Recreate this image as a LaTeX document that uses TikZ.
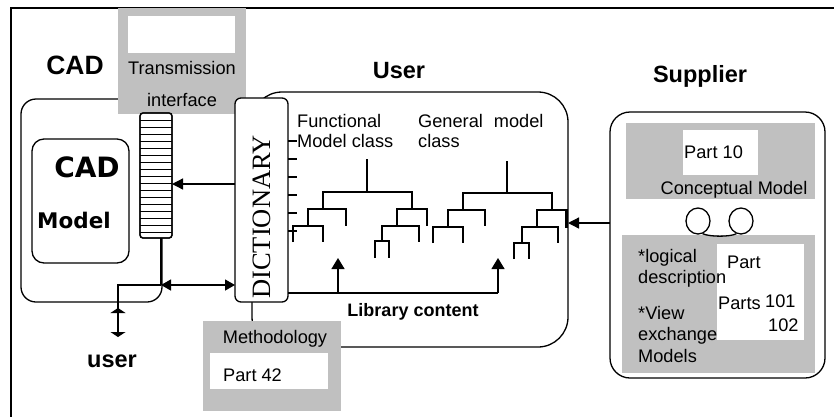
\documentclass[tikz,border=0pt]{standalone}
\usepackage{fontspec}
\setmainfont{Liberation Sans}
\newfontfamily\dictfont{Liberation Serif}
\newfontfamily\blkfont{DejaVu Sans}
\usetikzlibrary{arrows.meta,calc,shapes.geometric}
\definecolor{boxgray}{RGB}{192,192,192}
\tikzset{
  ln/.style={line width=1.3pt},
  rbox/.style={draw, line width=1.3pt, inner sep=0pt, outer sep=0pt, fill=white},
  gbox/.style={fill=boxgray, inner sep=0pt, outer sep=0pt},
  wbox/.style={fill=white, inner sep=0pt, outer sep=0pt},
  txt/.style={inner sep=0pt, font=\fontsize{18.2}{20}\selectfont},
  ttl/.style={inner sep=0pt, font=\bfseries\fontsize{23.5}{26}\selectfont},
  tipa/.style={-{Triangle[width=11pt,length=11pt]}},
  tipflat/.style={-{Triangle[width=15pt,length=5pt]}},
}
\begin{document}
\begin{tikzpicture}[x=1pt,y=-1pt]
\clip (0,0) rectangle (834,416);
\fill[white] (0,0) rectangle (834,416);
% frame
\draw[ln] (11,430) -- (11,8) -- (850,8);

% ---- CAD side
\node[rbox, rounded corners=15pt, minimum width=141pt, minimum height=203pt] (cadouter) at (91.5,200.5) {};
\node[rbox, rounded corners=12pt, minimum width=97pt, minimum height=124pt] (cadinner) at (80.5,201) {};
\node[anchor=base, inner sep=0pt, font=\blkfont\bfseries\fontsize{28}{30}\selectfont] (cadtxt) at (87,177) {CAD};
\node[anchor=base, inner sep=0pt, font=\blkfont\bfseries\fontsize{21.5}{24}\selectfont] (modeltxt) at (74,228) {Model};
\node[ttl, anchor=base, font=\bfseries\fontsize{26.5}{28}\selectfont] (cadtitle) at (75,74) {CAD};

% transmission interface
\node[gbox, minimum width=128pt, minimum height=106pt] (transg) at (182,61) {};
\node[wbox, minimum width=107pt, minimum height=37pt] (transw) at (181.5,34.5) {};
\node[txt, anchor=base] (transt1) at (182,74) {Transmission};
\node[txt, anchor=base] (transt2) at (182,106) {interface};

% striped bar
\node[rbox, rounded corners=3pt, minimum width=32pt, minimum height=125pt] (bar) at (156,175.5) {};
\foreach \yy in {120,127,...,232} \draw[line width=1pt] (140,\yy) -- (172,\yy);
\draw[rbox, rounded corners=3pt, fill=none] (140,113) rectangle (172,238);

% ---- User box
\node[rbox, rounded corners=30pt, minimum width=316pt, minimum height=255pt] (userbox) at (410,219.5) {};
\node[ttl, anchor=base] (usertitle) at (399,78) {User};

% dictionary
\node[rbox, rounded corners=6pt, minimum width=53pt, minimum height=204pt] (dict) at (261.5,200) {};
\node[rotate=90, anchor=base, inner sep=0pt, font=\dictfont\fontsize{26.5}{28}\selectfont] (dicttxt) at (270,217) {DICTIONARY};
\foreach \yy in {141,159,177,195,213,231} \draw[ln] (288,\yy) -- (297,\yy);

\node[txt, anchor=base west] (func1) at (297,127) {Functional};
\node[txt, anchor=base west] (func2) at (297,147) {Model class};
\node[txt, anchor=base west] (gen1) at (418,127) {General\hspace{11pt}model};
\node[txt, anchor=base west] (gen2) at (418,147) {class};

% trees
\begin{scope}[ln]
\draw (367,159)--(367,192);
\draw (323,209)--(323,192)--(412,192)--(412,209);
\draw (308,226)--(308,209)--(346,209)--(346,226);
\draw (293,242)--(293,226)--(323,226)--(323,242);
\draw (397,226)--(397,209)--(427,209)--(427,226);
\draw (382,241)--(382,226)--(419,226)--(419,242);
\draw (375,258)--(375,241)--(389,241)--(389,258);
\draw (507,161)--(507,193);
\draw (463,210)--(463,193)--(552,193)--(552,210);
\draw (448,227)--(448,210)--(485,210)--(485,226);
\draw (433,243)--(433,227)--(463,227)--(463,243);
\draw (537,227)--(537,210)--(566,210);
\draw[line width=3pt] (566,209)--(566,228);
\draw (522,243)--(522,227)--(558,227)--(558,243);
\draw (514,259)--(514,243)--(529,243)--(529,259);
\end{scope}

% library content
\coordinate (lib0) at (dict.east |- 0,293);
\coordinate (libA) at (338,293);
\coordinate (libB) at (498,293);
\draw[ln] (lib0) -- (libB);
\draw[ln, -{Triangle[width=13pt,length=11pt]}] (libA) -- ++(0,-35);
\draw[ln, -{Triangle[width=13pt,length=11pt]}] (libB) -- ++(0,-35);
\node[anchor=base, inner sep=0pt, font=\bfseries\fontsize{18}{20}\selectfont] (libtxt) at (413,316) {Library content};

% methodology
\node[gbox, minimum width=138pt, minimum height=90pt] (methg) at (272,366) {};
\node[wbox, minimum width=118pt, minimum height=36pt] (methw) at (269,371) {};
\node[txt, anchor=base] (metht) at (275,343) {Methodology};
\node[txt, anchor=base west] (part42) at (223,381) {Part 42};

% connectors CAD <-> dictionary
\coordinate (d1) at (dict.west |- 0,184);
\draw[ln, tipa] (d1) -- (d1 -| bar.east);
\coordinate (j1) at (161,285);
\coordinate (d2) at (dict.west |- j1);
\draw[ln, {Triangle[width=11pt,length=10pt]}-{Triangle[width=11pt,length=10pt]}] (j1) -- (d2);
\coordinate (ju) at (118,285);
\coordinate (uend) at (118,337);
\draw[ln] (161,238) -- (j1);
\draw[ln, tipflat] (j1) -- (ju) -- (uend);
\draw[ln, tipflat] (118,318) -- (118,308);
\node[ttl, anchor=base] (usertxt) at (112,367) {user};

% ---- Supplier
\node[ttl, anchor=base] (suptitle) at (700,82) {Supplier};
\node[rbox, rounded corners=20pt, minimum width=215pt, minimum height=266pt] (supbox) at (717.5,245) {};
\node[gbox, minimum width=189pt, minimum height=76pt] (supg1) at (720.5,161) {};
\node[wbox, minimum width=75pt, minimum height=45pt] (supw1) at (720.5,152.5) {};
\node[txt, anchor=base west] (p10) at (684,158) {Part 10};
\node[txt, anchor=base] (concept) at (734,194) {Conceptual Model};
\node[gbox, minimum width=193pt, minimum height=138pt] (supg2) at (718.5,304) {};
\node[wbox, minimum width=87pt, minimum height=96pt] (supw2) at (760.5,292) {};
\node[draw, ln, ellipse, minimum width=24pt, minimum height=26pt, inner sep=0pt] (c1) at (698,221) {};
\node[draw, ln, ellipse, minimum width=24pt, minimum height=26pt, inner sep=0pt] (c2) at (741,221) {};
\draw[ln] (c1.290) .. controls (710,237) and (730,237) .. (c2.250);
\node[txt, anchor=base west] (s1) at (638,262) {*logical};
\node[txt, anchor=base west] (s2) at (638,283) {description};
\node[txt, anchor=base west] (s3) at (638,319) {*View};
\node[txt, anchor=base west] (s4) at (638,340) {exchange};
\node[txt, anchor=base west] (s5) at (638,362) {Models};
\node[txt, anchor=base west] (s6) at (727,268) {Part};
\node[txt, anchor=base west] (s7) at (718,309) {Parts};
\node[txt, anchor=base west] (s8) at (765,307) {101};
\node[txt, anchor=base west] (s9) at (768,331) {102};
\coordinate (sa) at (supbox.west |- 0,223);
\draw[ln, {Triangle[width=11pt,length=11pt]}-] (sa -| userbox.east) -- (sa);
\end{tikzpicture}
\end{document}
